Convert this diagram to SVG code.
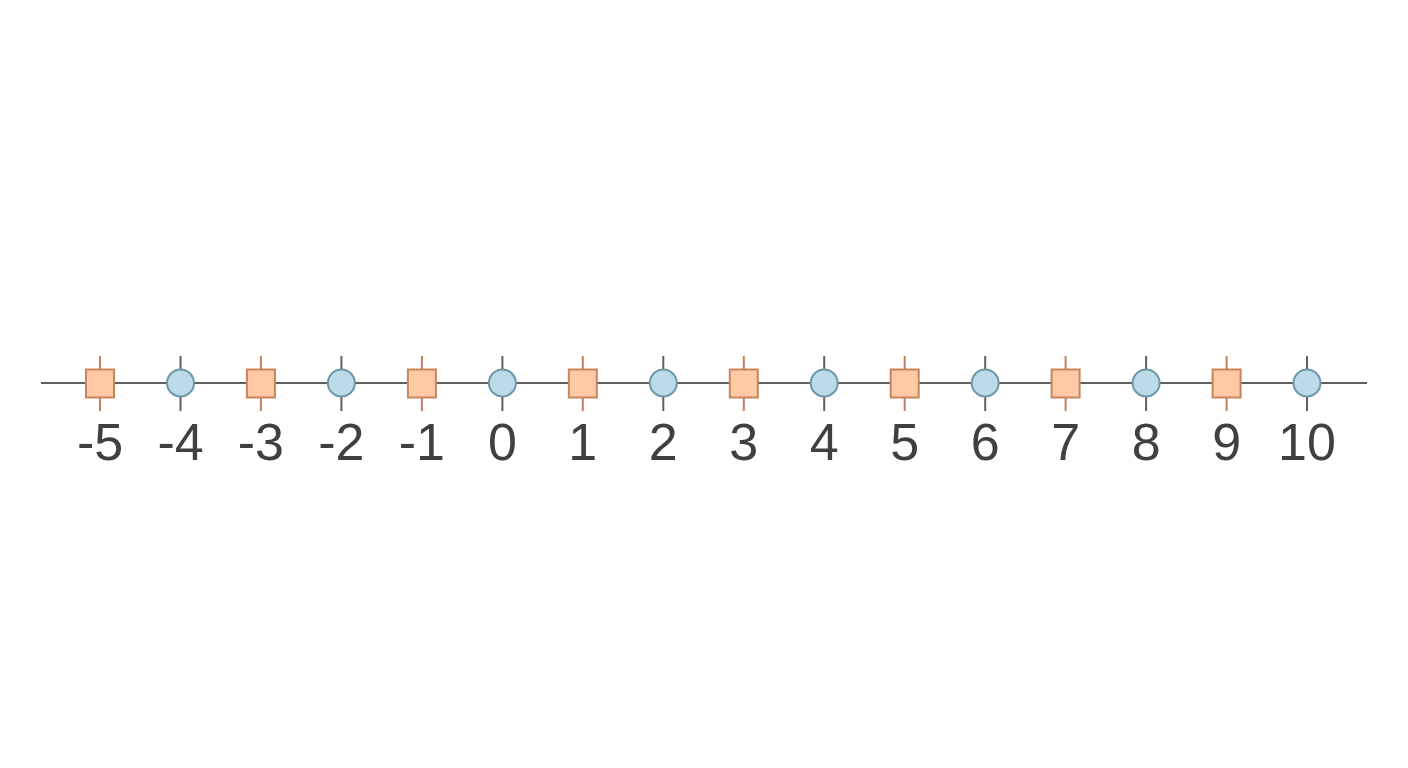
<svg xmlns="http://www.w3.org/2000/svg" width="1408" height="768" viewBox="0 0 1408 768">
<style>
.axis{stroke:#5f5f5f;stroke-width:2;fill:none}
.tk{stroke:#5f5f5f;stroke-width:2}
.tko{stroke:#c08060;stroke-width:2}
.sq{fill:#fecaa6;stroke:#c8845c;stroke-width:2}
.ci{fill:#badbe7;stroke:#7096aa;stroke-width:2}
.lb{font-family:"Liberation Sans",Arial,sans-serif;font-size:52px;fill:#404040;text-anchor:middle}
</style>
<rect width="1408" height="768" fill="#ffffff"/>
<g id="connectors">
<line class="axis" x1="41" y1="383" x2="1367" y2="383"/>
</g>
<g id="m-5"><line class="tko" x1="100" y1="356" x2="100" y2="411"/><rect class="sq" x="86" y="369.5" width="28" height="28"/><text class="lb" x="100" y="460">-5</text></g>
<g id="m-4"><line class="tk" x1="180.5" y1="356" x2="180.5" y2="411"/><circle class="ci" cx="180.5" cy="383" r="13.5"/><text class="lb" x="180.5" y="460">-4</text></g>
<g id="m-3"><line class="tko" x1="260.9" y1="356" x2="260.9" y2="411"/><rect class="sq" x="246.9" y="369.5" width="28" height="28"/><text class="lb" x="260.9" y="460">-3</text></g>
<g id="m-2"><line class="tk" x1="341.4" y1="356" x2="341.4" y2="411"/><circle class="ci" cx="341.4" cy="383" r="13.5"/><text class="lb" x="341.4" y="460">-2</text></g>
<g id="m-1"><line class="tko" x1="421.9" y1="356" x2="421.9" y2="411"/><rect class="sq" x="407.9" y="369.5" width="28" height="28"/><text class="lb" x="421.9" y="460">-1</text></g>
<g id="m0"><line class="tk" x1="502.4" y1="356" x2="502.4" y2="411"/><circle class="ci" cx="502.4" cy="383" r="13.5"/><text class="lb" x="502.4" y="460">0</text></g>
<g id="m1"><line class="tko" x1="582.8" y1="356" x2="582.8" y2="411"/><rect class="sq" x="568.8" y="369.5" width="28" height="28"/><text class="lb" x="582.8" y="460">1</text></g>
<g id="m2"><line class="tk" x1="663.3" y1="356" x2="663.3" y2="411"/><circle class="ci" cx="663.3" cy="383" r="13.5"/><text class="lb" x="663.3" y="460">2</text></g>
<g id="m3"><line class="tko" x1="743.8" y1="356" x2="743.8" y2="411"/><rect class="sq" x="729.8" y="369.5" width="28" height="28"/><text class="lb" x="743.8" y="460">3</text></g>
<g id="m4"><line class="tk" x1="824.2" y1="356" x2="824.2" y2="411"/><circle class="ci" cx="824.2" cy="383" r="13.5"/><text class="lb" x="824.2" y="460">4</text></g>
<g id="m5"><line class="tko" x1="904.7" y1="356" x2="904.7" y2="411"/><rect class="sq" x="890.7" y="369.5" width="28" height="28"/><text class="lb" x="904.7" y="460">5</text></g>
<g id="m6"><line class="tk" x1="985.2" y1="356" x2="985.2" y2="411"/><circle class="ci" cx="985.2" cy="383" r="13.5"/><text class="lb" x="985.2" y="460">6</text></g>
<g id="m7"><line class="tko" x1="1065.6" y1="356" x2="1065.6" y2="411"/><rect class="sq" x="1051.6" y="369.5" width="28" height="28"/><text class="lb" x="1065.6" y="460">7</text></g>
<g id="m8"><line class="tk" x1="1146.1" y1="356" x2="1146.1" y2="411"/><circle class="ci" cx="1146.1" cy="383" r="13.5"/><text class="lb" x="1146.1" y="460">8</text></g>
<g id="m9"><line class="tko" x1="1226.6" y1="356" x2="1226.6" y2="411"/><rect class="sq" x="1212.6" y="369.5" width="28" height="28"/><text class="lb" x="1226.6" y="460">9</text></g>
<g id="m10"><line class="tk" x1="1307" y1="356" x2="1307" y2="411"/><circle class="ci" cx="1307" cy="383" r="13.5"/><text class="lb" x="1307" y="460">10</text></g>
</svg>
